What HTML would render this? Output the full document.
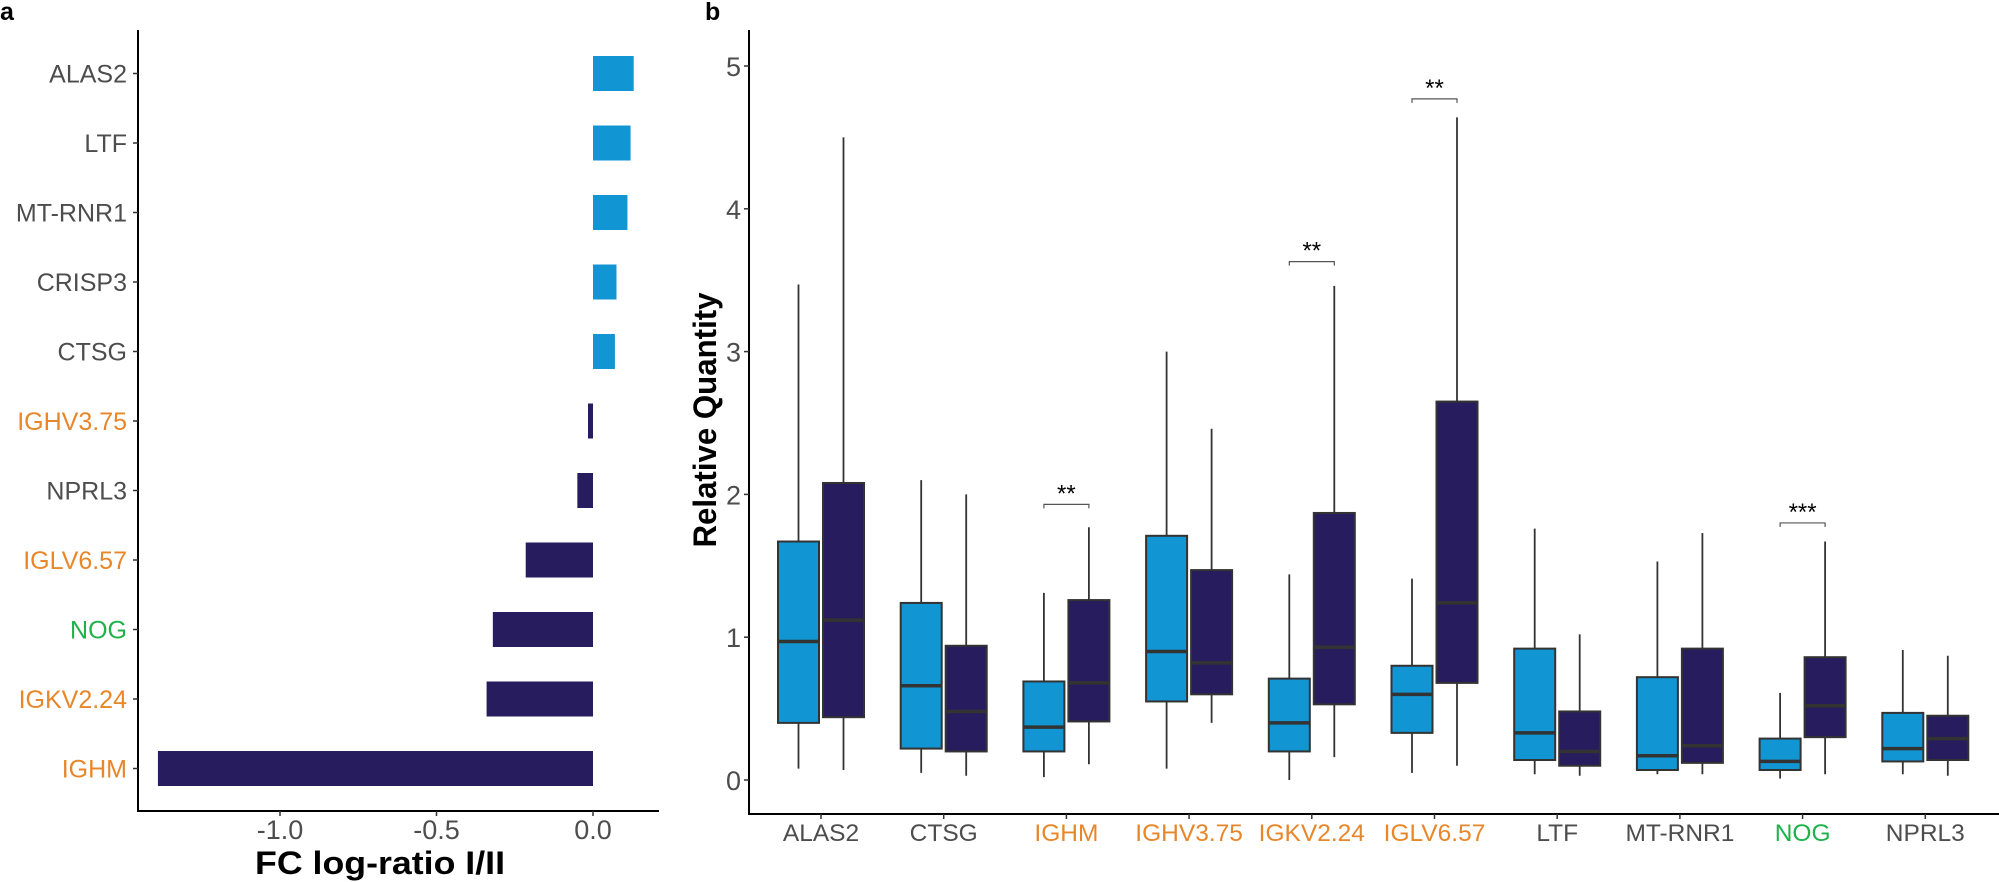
<!DOCTYPE html>
<html><head><meta charset="utf-8"><style>
html,body{margin:0;padding:0;background:#fff;}
svg{display:block;font-family:"Liberation Sans",sans-serif;}
</style></head><body>
<svg id="s" width="1999" height="882" xmlns="http://www.w3.org/2000/svg"></svg>
<script>
var o=[];
function L(x1,y1,x2,y2,c,w){o.push('<line x1="'+x1+'" y1="'+y1+'" x2="'+x2+'" y2="'+y2+'" stroke="'+c+'" stroke-width="'+w+'"/>');}
function R(x,y,w,h,f,s,sw){o.push('<rect x="'+x+'" y="'+y+'" width="'+w+'" height="'+h+'" fill="'+f+'"'+(s?' stroke="'+s+'" stroke-width="'+sw+'"':'')+'/>');}
function T(x,y,t,a,fs,c,extra){o.push('<text x="'+x+'" y="'+y+'" text-anchor="'+a+'" font-size="'+fs+'" fill="'+c+'" '+(extra||'')+'>'+t+'</text>');}
var LB="#1196d3",DB="#261c5e",OR="#e8862a",GR="#1db34a",GY="#4d4d4d";
// panel a
T(0,20,"a","start",25,"#000",'font-weight="bold"');
L(138,30,138,811,"#000",2);L(137,811,659,811,"#000",2);
var genes=[["ALAS2",0.13,GY],["LTF",0.12,GY],["MT-RNR1",0.11,GY],["CRISP3",0.075,GY],["CTSG",0.07,GY],["IGHV3.75",-0.016,OR],["NPRL3",-0.05,GY],["IGLV6.57",-0.215,OR],["NOG",-0.32,GR],["IGKV2.24",-0.34,OR],["IGHM",-1.39,OR]];
var x0=593,sc=313;
genes.forEach(function(g,i){var y=73.5+i*69.5;var v=g[1];var x1=x0+v*sc;
R(Math.min(x0,x1),y-17.5,Math.abs(x1-x0),35,v>0?LB:DB);
L(133,y,138,y,"#333",1.5);T(127,y+9,g[0],"end",25,g[2]);});
[[-1,"-1.0"],[-0.5,"-0.5"],[0,"0.0"]].forEach(function(t){var x=x0+t[0]*sc;L(x,811,x,816,"#333",1.5);T(x,839,t[1],"middle",27,GY);});
T(380,874,"FC log-ratio I/II","middle",32,"#000",'font-weight="bold" textLength="250" lengthAdjust="spacingAndGlyphs"');
// panel b
T(705,20,"b","start",25,"#000",'font-weight="bold"');
var y0=780,u=142.8;function Y(v){return y0-v*u;}
L(749,30,749,814,"#000",2);L(748,814,1999,814,"#000",2);
for(var k=0;k<=5;k++){var y=Y(k);L(744,y,749,y,"#333",1.5);T(741,y+10,k,"end",27,GY);}
T(0,0,"Relative Quantity","middle",32,"#000",'font-weight="bold" textLength="255" lengthAdjust="spacingAndGlyphs" transform="translate(716,420) rotate(-90)"');
var B=[["ALAS2",GY,[0.08,0.4,0.97,1.67,3.47],[0.07,0.44,1.12,2.08,4.5]],
["CTSG",GY,[0.05,0.22,0.66,1.24,2.1],[0.03,0.2,0.48,0.94,2.0]],
["IGHM",OR,[0.02,0.2,0.37,0.69,1.31],[0.11,0.41,0.68,1.26,1.77]],
["IGHV3.75",OR,[0.08,0.55,0.9,1.71,3.0],[0.4,0.6,0.82,1.47,2.46]],
["IGKV2.24",OR,[0.0,0.2,0.4,0.71,1.44],[0.16,0.53,0.93,1.87,3.46]],
["IGLV6.57",OR,[0.05,0.33,0.6,0.8,1.41],[0.1,0.68,1.24,2.65,4.64]],
["LTF",GY,[0.04,0.14,0.33,0.92,1.76],[0.03,0.1,0.2,0.48,1.02]],
["MT-RNR1",GY,[0.04,0.07,0.17,0.72,1.53],[0.04,0.12,0.24,0.92,1.73]],
["NOG",GR,[0.01,0.07,0.13,0.29,0.61],[0.04,0.3,0.52,0.86,1.67]],
["NPRL3",GY,[0.04,0.13,0.22,0.47,0.91],[0.03,0.14,0.29,0.45,0.87]]];
B.forEach(function(b,i){var cx=821+i*122.7;
L(cx,814,cx,819,"#333",1.5);T(cx,841,b[0],"middle",24.5,b[1]);
[[b[2],cx-22.5,LB],[b[3],cx+22.5,DB]].forEach(function(s){var d=s[0],c=s[1];
L(c,Y(d[0]),c,Y(d[4]),"#333",1.8);
R(c-20.5,Y(d[3]),41,Y(d[1])-Y(d[3]),s[2],"#333",2);
L(c-20.5,Y(d[2]),c+20.5,Y(d[2]),"#333",3.5);});});
[[2,1.93,"**"],[4,3.63,"**"],[5,4.77,"**"],[8,1.8,"***"]].forEach(function(s){var cx=821+s[0]*122.7;var y=Y(s[1]);
o.push('<path d="M'+(cx-22.5)+','+(y+4)+' V'+y+' H'+(cx+22.5)+' V'+(y+4)+'" fill="none" stroke="#555" stroke-width="1.2"/>');
T(cx,y-3,s[2],"middle",24,"#000");});
document.getElementById("s").innerHTML=o.join("");
</script>
</body></html>
